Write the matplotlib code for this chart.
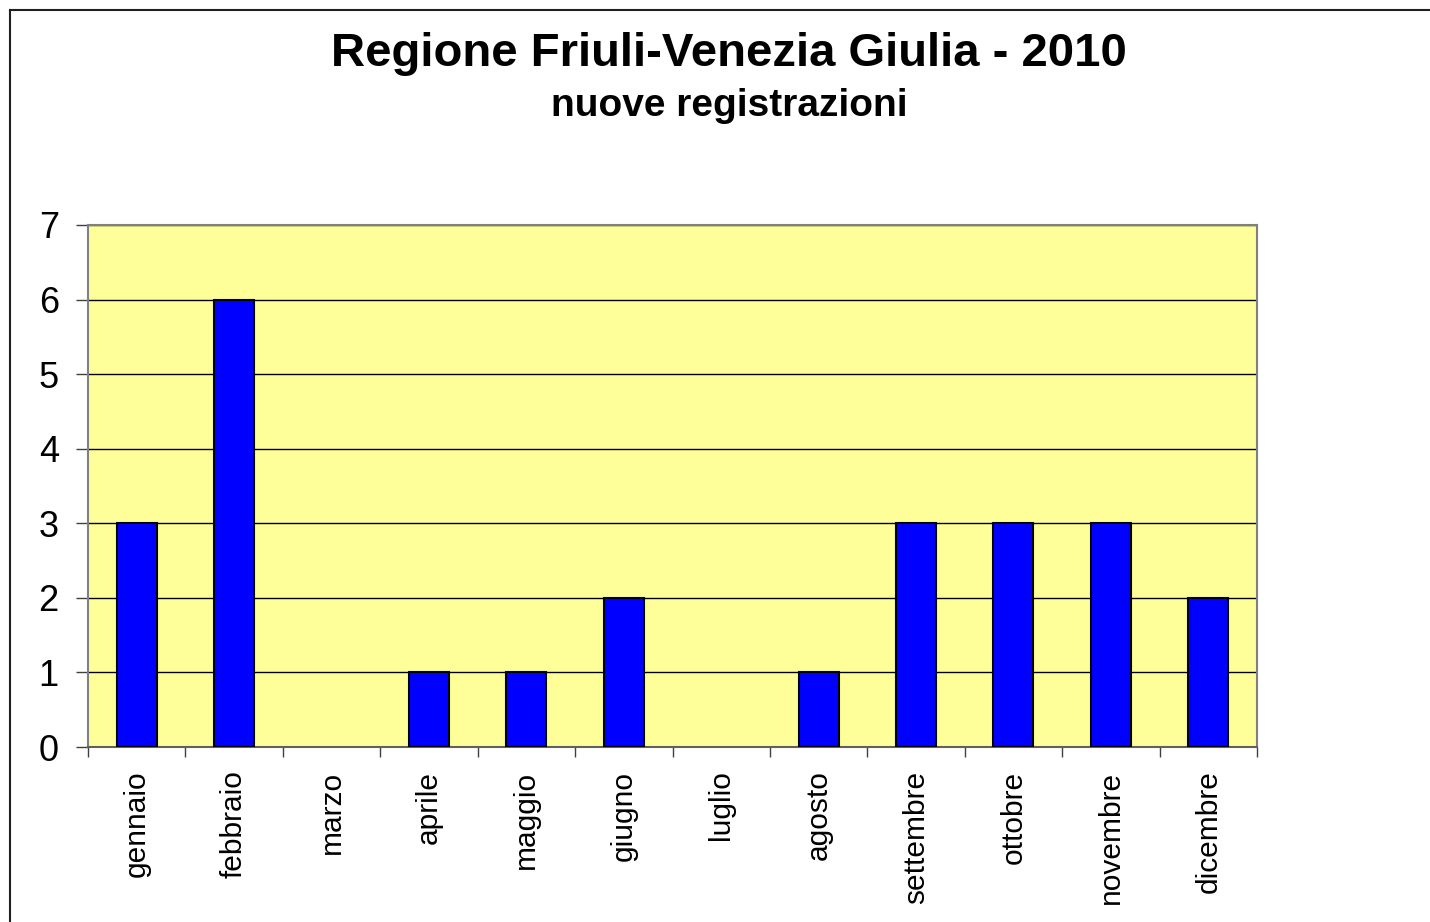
import matplotlib.pyplot as plt
import numpy as np

plt.rcParams['font.family'] = ['Liberation Sans', 'DejaVu Sans']

# dati
mesi = ['gennaio', 'febbraio', 'marzo', 'aprile', 'maggio', 'giugno',
        'luglio', 'agosto', 'settembre', 'ottobre', 'novembre', 'dicembre']
registrazioni = [3, 6, 0, 1, 1, 2, 0, 1, 3, 3, 3, 2]
y_ticks = [0, 1, 2, 3, 4, 5, 6, 7]

fig = plt.figure(figsize=(14.3, 9.22), dpi=100)
ax = fig.add_axes([88 / 1430, 1 - 747 / 922, (1257 - 88) / 1430, (747 - 225) / 922])

x = np.arange(len(mesi))
ax.set_facecolor('#FFFF99')
# niente bordo per i mesi a zero
bordi = ['black' if v > 0 else 'none' for v in registrazioni]
ax.bar(x, registrazioni, width=0.41, color='#0000FF', edgecolor=bordi, linewidth=1.5, zorder=3)

ax.set_xlim(-0.5, len(mesi) - 0.5)
ax.set_ylim(0, 7)
ax.set_yticks(y_ticks)
ax.yaxis.grid(True, color='black', linewidth=1.0, zorder=1)

# tick categorie ai bordi
ax.set_xticks(x)
ax.set_xticklabels(mesi, rotation=90, fontsize=21.5)
ax.set_xticks(np.arange(-0.5, len(mesi)), minor=True)
ax.tick_params(axis='x', which='major', length=0, pad=17)
ax.tick_params(axis='x', which='minor', length=7.5, width=1, color='#404040', direction='out')
ax.tick_params(axis='y', length=9, width=1, color='#404040', direction='out', labelsize=26, pad=12)

for s in ['top', 'left', 'right']:
    ax.spines[s].set_color('#808080')
    ax.spines[s].set_linewidth(1.5)
ax.spines['bottom'].set_color('#606060')
ax.spines['bottom'].set_linewidth(1.5)

fig.text(0.51, 1 - 66 / 922, 'Regione Friuli-Venezia Giulia - 2010', ha='center', va='baseline',
         fontsize=34, fontweight='bold')
fig.text(0.51, 1 - 116 / 922, 'nuove registrazioni', ha='center', va='baseline',
         fontsize=28, fontweight='bold')

# cornice esterna
fig.add_artist(plt.Line2D([10 / 1430, 10 / 1430], [0, 1 - 10 / 922], color='#202020', linewidth=1.5))
fig.add_artist(plt.Line2D([10 / 1430, 1], [1 - 10 / 922, 1 - 10 / 922], color='#202020', linewidth=1.5))

fig.savefig('out.png', dpi=100, facecolor='white')
